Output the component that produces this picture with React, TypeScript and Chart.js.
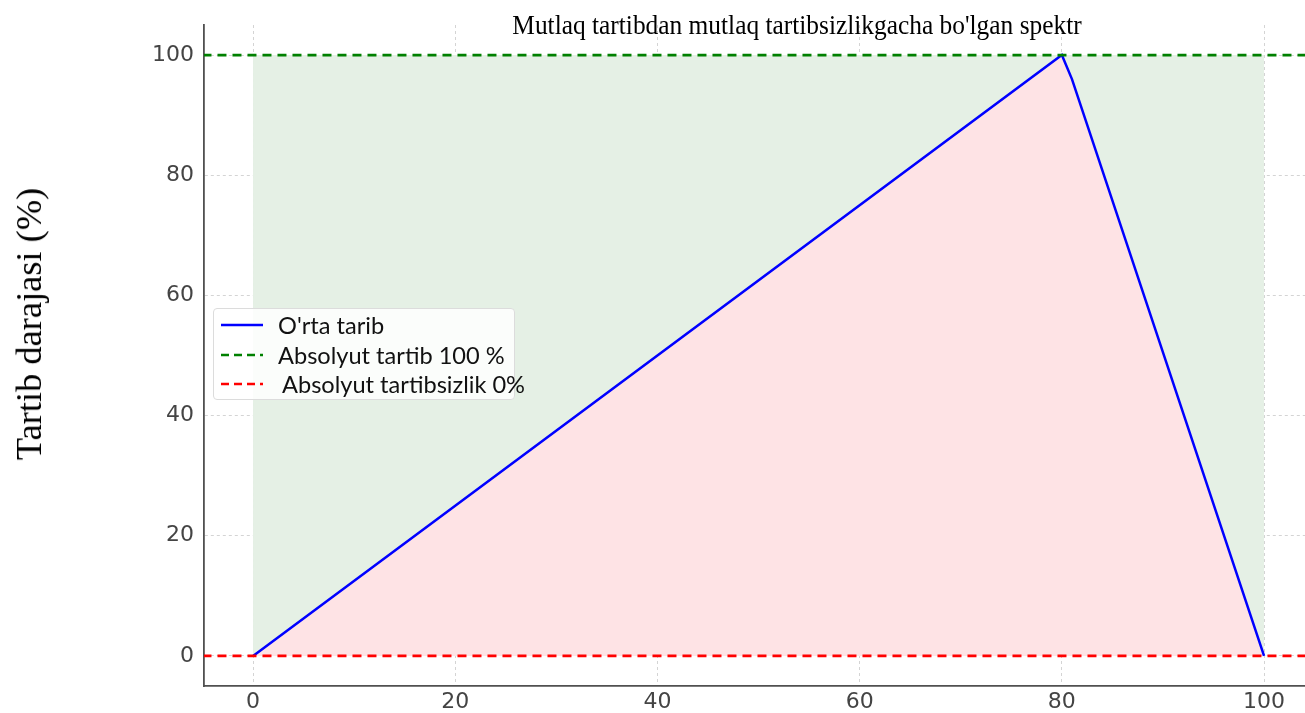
import React, { useEffect, useRef } from "react";
import { Chart, registerables } from "chart.js";

Chart.register(...registerables);

// ---- data ----
const xValues = [0, 80, 81, 100];
const orderValues = [0, 100, 96, 0];
const fieldX = [0, 100];
const fieldTop = [100, 100];
const spanX = [-5, 105];
const absoluteOrder = [100, 100];
const absoluteDisorder = [0, 0];
const xTicks = [0, 20, 40, 60, 80, 100];
const yTicks = [0, 20, 40, 60, 80, 100];
const legendLabels = ["O'rta tarib", "Absolyut tartib 100 %", "Absolyut tartibsizlik 0%"];
const titleText = "Mutlaq tartibdan mutlaq tartibsizlikgacha bo'lgan spektr";
const yTitleText = "Tartib darajasi (%)";

// ---- styles ----
const BLUE = "#0000ff";
const GREEN = "#008000";
const RED = "#ff0000";
const legendStyles = [
  { color: BLUE, dash: "" },
  { color: GREEN, dash: "8 5" },
  { color: RED, dash: "8 5" },
];

const toPoints = (xs: number[], ys: number[]) => xs.map((x, i) => ({ x, y: ys[i] }));

export default function App() {
  const canvasRef = useRef<HTMLCanvasElement | null>(null);

  useEffect(() => {
    if (!canvasRef.current) return;
    const tickFont = { family: "DejaVu Sans", size: 22 };
    const chart = new Chart(canvasRef.current, {
      type: "scatter",
      data: {
        datasets: [
          {
            label: legendLabels[0],
            data: toPoints(xValues, orderValues),
            showLine: true,
            borderColor: BLUE,
            borderWidth: 2.5,
            pointRadius: 0,
            fill: "origin",
            backgroundColor: "rgb(254,227,229)",
            order: 1,
          },
          {
            label: "field",
            data: toPoints(fieldX, fieldTop),
            showLine: true,
            borderWidth: 0,
            borderColor: "rgba(0,0,0,0)",
            pointRadius: 0,
            fill: "origin",
            backgroundColor: "rgb(229,240,229)",
            order: 5,
          },
          {
            label: legendLabels[1],
            data: toPoints(spanX, absoluteOrder),
            showLine: true,
            borderColor: GREEN,
            borderWidth: 2.7,
            borderDash: [9, 6],
            pointRadius: 0,
            fill: false,
            order: 0,
          },
          {
            label: legendLabels[2],
            data: toPoints(spanX, absoluteDisorder),
            showLine: true,
            borderColor: RED,
            borderWidth: 2.7,
            borderDash: [9, 6],
            pointRadius: 0,
            fill: false,
            order: 0,
          },
        ],
      },
      options: {
        animation: false,
        responsive: true,
        maintainAspectRatio: false,
        layout: { padding: { top: 25, left: 0, right: 0, bottom: 0 } },
        plugins: {
          legend: { display: false },
          tooltip: { enabled: false },
          title: { display: false },
        },
        scales: {
          x: {
            type: "linear",
            min: -4.85,
            max: 104.05,
            afterBuildTicks: (scale: any) => {
              scale.ticks = xTicks.map((v) => ({ value: v }));
            },
            afterFit: (scale: any) => {
              scale.height = 27;
            },
            grid: { color: "#d4d4d4", lineWidth: 1, drawTicks: false },
            border: { display: true, color: "#505050", width: 1.8, dash: [3, 3] },
            ticks: { font: tickFont, color: "#444444", padding: 3, maxRotation: 0 },
          },
          y: {
            type: "linear",
            min: -5,
            max: 105,
            afterBuildTicks: (scale: any) => {
              scale.ticks = yTicks.map((v) => ({ value: v }));
            },
            afterFit: (scale: any) => {
              scale.width = 204;
            },
            grid: { color: "#d4d4d4", lineWidth: 1, drawTicks: false },
            border: { display: true, color: "#505050", width: 1.8, dash: [3, 3] },
            ticks: { font: tickFont, color: "#444444", padding: 10 },
          },
        },
      },
    } as any);
    return () => chart.destroy();
  }, []);

  return (
    <div style={{ position: "fixed", left: 0, top: 0, width: 1305, height: 713, overflow: "hidden", background: "#fff" }}>
      <canvas ref={canvasRef} />
      <div
        style={{
          position: "absolute",
          left: 797,
          top: 11,
          transform: "translateX(-50%) scaleY(1.05)",
          transformOrigin: "center top",
          whiteSpace: "nowrap",
          fontFamily: '"Liberation Serif", serif',
          fontSize: 25.4,
          lineHeight: "27px",
          color: "#000",
        }}
      >
        {titleText}
      </div>
      <div
        style={{
          position: "absolute",
          left: 30,
          top: 324,
          transform: "translate(-50%,-50%) rotate(-90deg) scaleX(1.04)",
          whiteSpace: "nowrap",
          fontFamily: '"Liberation Serif", serif',
          fontSize: 35,
          lineHeight: "40px",
          color: "#000",
        }}
      >
        {yTitleText}
      </div>
      <div
        style={{
          position: "absolute",
          left: 213,
          top: 308,
          width: 302,
          height: 92,
          boxSizing: "border-box",
          border: "1px solid #dcdcdc",
          borderRadius: 4,
          background: "rgba(255,255,255,0.85)",
        }}
      >
        {legendLabels.map((lab, i) => (
          <div
            key={lab}
            style={{
              position: "absolute",
              left: 6,
              top: 16 + i * 29.5 - 14,
              height: 28,
              display: "flex",
              alignItems: "center",
              whiteSpace: "nowrap",
            }}
          >
            <svg width={44} height={10} style={{ display: "block" }}>
              <line
                x1={1}
                y1={5}
                x2={43}
                y2={5}
                stroke={legendStyles[i].color}
                strokeWidth={2.5}
                strokeDasharray={legendStyles[i].dash || undefined}
              />
            </svg>
            <span
              style={{
                marginLeft: i === 2 ? 18 : 14,
                fontFamily: "Lato, sans-serif",
                fontSize: 23.6,
                color: "#111",
                display: "inline-block",
              }}
            >
              {lab}
            </span>
          </div>
        ))}
      </div>
    </div>
  );
}
